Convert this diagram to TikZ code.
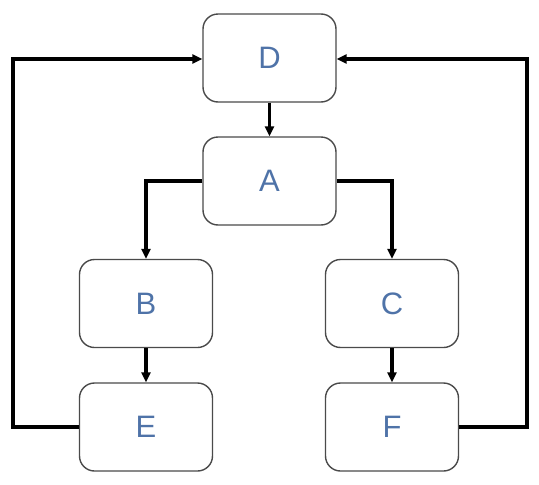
\documentclass[tikz,border=0pt]{standalone}
\usepackage{fontspec}
\setmainfont{Liberation Sans}
\usetikzlibrary{arrows.meta}
\definecolor{txtblue}{HTML}{4F73A8}
\definecolor{boxgrey}{HTML}{4A4A4A}
\begin{document}
\begin{tikzpicture}[x=1pt,y=-1pt,
  box/.style={draw=boxgrey,line width=1.4pt,rounded corners=15pt,minimum width=133pt,minimum height=88pt,inner sep=0pt,text=txtblue,font=\fontsize{31}{31}\selectfont},
  conn/.style={line width=3.6pt,-{Triangle[length=10pt,width=9pt]}},
  plain/.style={line width=3.6pt}]
\useasboundingbox (0,0) rectangle (539,485);
\node[box] (D) at (269.5,58) {D};
\node[box] (A) at (269.5,181) {A};
\node[box] (B) at (146,303.5) {B};
\node[box] (C) at (392,303.5) {C};
\node[box] (E) at (146,427) {E};
\node[box] (F) at (392,427) {F};
\coordinate (L1) at (13,427);
\coordinate (L2) at (13,59);
\coordinate (R1) at (527,427);
\coordinate (R2) at (527,59);
\coordinate (AB) at (146,181);
\coordinate (AC) at (392,181);
\draw[conn] (D) -- (A);
\draw[conn] (A.west) -- (AB) -- (B.north);
\draw[conn] (A.east) -- (AC) -- (C.north);
\draw[conn] (B) -- (E);
\draw[conn] (C) -- (F);
\draw[conn] (E.west) -- (L1) -- (L2) -- (D.west |- L2);
\draw[conn] (F.east) -- (R1) -- (R2) -- (D.east |- R2);
\end{tikzpicture}
\end{document}
